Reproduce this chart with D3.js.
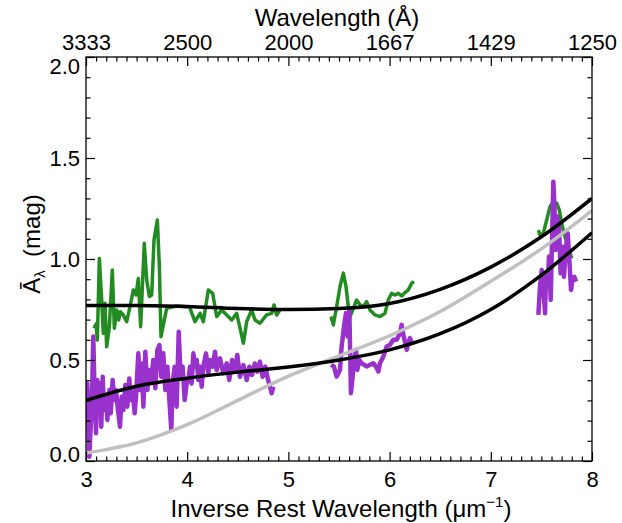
<!DOCTYPE html>
<html><head><meta charset="utf-8">
<script src="https://cdn.jsdelivr.net/npm/d3@7"></script>
<style>body{margin:0;background:#fff}svg{display:block}text{font-family:"Liberation Sans",Arial,sans-serif}</style>
</head><body>
<svg id="c" width="622" height="523"></svg>
<script>
// ---- data ----
const xTicks = [3, 4, 5, 6, 7, 8];
const topTickLabels = ["3333", "2500", "2000", "1667", "1429", "1250"];
const yTicks = [0.0, 0.5, 1.0, 1.5, 2.0];

const modelX = [3, 3.5, 4, 4.5, 5, 5.5, 6, 6.5, 7, 7.5, 8];
const upperModel = [0.77, 0.77, 0.765, 0.755, 0.75, 0.755, 0.78, 0.85, 0.96, 1.11, 1.30];
const lowerModel = [0.30, 0.37, 0.41, 0.44, 0.465, 0.50, 0.55, 0.63, 0.75, 0.92, 1.13];
const grayModel  = [0.04, 0.09, 0.18, 0.30, 0.42, 0.52, 0.62, 0.74, 0.89, 1.05, 1.24];

const green1X = [3.079,3.099,3.112,3.132,3.155,3.171,3.188,3.204,3.231,3.260,3.280,3.303,3.323,3.339,3.369,3.402,3.435,3.468,3.494,3.517,3.540,3.576,3.600,3.626,3.649,3.672,3.705,3.725,3.741,3.797,3.896,3.978,4.021,4.077,4.127,4.159,4.209,4.252,4.291,4.341,4.390,4.440,4.489,4.555,4.588,4.637,4.670,4.719,4.785,4.835,4.858,4.884,4.917];
const green1Y = [0.657,0.678,0.599,1.003,0.797,0.632,0.781,0.566,0.665,0.945,0.657,0.748,0.698,0.739,0.723,0.690,0.764,0.847,0.822,0.904,0.665,1.078,0.896,0.814,0.822,1.094,1.193,0.962,0.615,0.756,0.767,0.764,0.764,0.690,0.731,0.690,0.847,0.830,0.715,0.748,0.723,0.698,0.731,0.583,0.690,0.748,0.698,0.682,0.723,0.731,0.772,0.723,0.748];
const green2X = [5.421,5.444,5.477,5.510,5.543,5.569,5.592,5.609,5.642,5.674,5.707,5.740,5.773,5.806,5.856,5.905,5.954,5.987,6.020,6.053,6.086,6.119,6.152,6.185,6.218,6.241];
const green2Y = [0.715,0.674,0.765,0.864,0.930,0.864,0.765,0.715,0.756,0.797,0.773,0.765,0.789,0.748,0.723,0.715,0.731,0.797,0.830,0.822,0.830,0.817,0.834,0.847,0.880,0.888];
const green3X = [7.470,7.486,7.519,7.552,7.585,7.618,7.651,7.677,7.700,7.733,7.766,7.799];
const green3Y = [1.143,1.119,1.127,1.193,1.259,1.284,1.276,1.243,1.177,1.111,1.061,1.003];

const purple1X = [3.000,3.013,3.033,3.046,3.059,3.072,3.086,3.099,3.112,3.125,3.138,3.151,3.165,3.178,3.198,3.211,3.231,3.244,3.263,3.277,3.296,3.316,3.336,3.352,3.369,3.389,3.408,3.428,3.441,3.461,3.481,3.494,3.517,3.534,3.550,3.567,3.586,3.606,3.626,3.646,3.665,3.685,3.705,3.725,3.744,3.764,3.784,3.804,3.824,3.843,3.856,3.876,3.896,3.916,3.935,3.955,3.975,3.995,4.011,4.028,4.044,4.061,4.077,4.094,4.110,4.127,4.143,4.159,4.186,4.209,4.225,4.252,4.275,4.291,4.324,4.357,4.390,4.416,4.443,4.472,4.495,4.522,4.555,4.588,4.614,4.640,4.667,4.693,4.719,4.746,4.772,4.799,4.818,4.835,4.851];
const purple1Y = [0.219,0.384,0.021,0.170,0.302,0.616,0.302,0.137,0.401,0.252,0.384,0.170,0.417,0.252,0.318,0.203,0.351,0.236,0.401,0.302,0.351,0.252,0.170,0.318,0.252,0.376,0.269,0.409,0.302,0.351,0.236,0.318,0.533,0.351,0.483,0.269,0.541,0.351,0.450,0.401,0.500,0.360,0.549,0.574,0.417,0.533,0.351,0.467,0.302,0.153,0.384,0.467,0.269,0.640,0.417,0.467,0.302,0.384,0.401,0.467,0.384,0.533,0.467,0.500,0.401,0.467,0.368,0.467,0.533,0.434,0.500,0.467,0.541,0.450,0.508,0.434,0.483,0.401,0.500,0.450,0.525,0.417,0.475,0.401,0.467,0.426,0.483,0.442,0.492,0.417,0.467,0.401,0.368,0.335,0.368];
const purple2X = [5.421,5.450,5.477,5.510,5.526,5.549,5.569,5.585,5.602,5.618,5.635,5.648,5.668,5.681,5.701,5.724,5.750,5.773,5.806,5.839,5.865,5.889,5.905,5.938,5.971,6.004,6.037,6.070,6.103,6.119,6.136,6.152,6.169,6.185,6.201,6.228];
const purple2Y = [0.476,0.468,0.418,0.451,0.567,0.665,0.732,0.616,0.748,0.336,0.418,0.500,0.550,0.451,0.500,0.484,0.476,0.468,0.476,0.484,0.468,0.443,0.484,0.517,0.567,0.575,0.600,0.600,0.633,0.674,0.624,0.591,0.550,0.583,0.608,0.575];
const purple3X = [7.470,7.486,7.503,7.519,7.536,7.546,7.562,7.575,7.592,7.608,7.618,7.628,7.641,7.658,7.674,7.690,7.707,7.723,7.740,7.760,7.776,7.793,7.809,7.825,7.842];
const purple3Y = [0.723,0.863,0.945,0.863,0.731,0.929,0.863,1.012,0.797,1.160,1.383,1.276,1.045,1.210,1.160,0.929,1.061,0.912,1.045,1.127,0.995,0.847,0.904,0.912,0.888];

// ---- layout ----
const svg = d3.select("#c");
const L = 86, R = 592, T = 57, B = 461;
const x = d3.scaleLinear().domain([3, 8]).range([L, R]);
const y = d3.scaleLinear().domain([0, 2]).range([B, T]);

const zip = (xs, ys) => xs.map((v, i) => [v, ys[i]]);
const raw = d3.line().x(d => x(d[0])).y(d => y(d[1]));
const smooth = d3.line().x(d => x(d[0])).y(d => y(d[1])).curve(d3.curveMonotoneX);

const plot = svg.append("g");
plot.append("defs").append("clipPath").attr("id", "clip")
  .append("rect").attr("x", L).attr("y", T).attr("width", R - L).attr("height", B - T);
const g = plot.append("g").attr("clip-path", "url(#clip)");

const GREEN = "#228b22", PURPLE = "#9932cc", GRAY = "#c0c0c0";
[[green1X, green1Y], [green2X, green2Y], [green3X, green3Y]].forEach(([a, b]) =>
  g.append("path").attr("d", raw(zip(a, b))).attr("fill", "none").attr("stroke", GREEN)
   .attr("stroke-width", 3.5).attr("stroke-linejoin", "round"));
[[purple1X, purple1Y], [purple2X, purple2Y], [purple3X, purple3Y]].forEach(([a, b]) =>
  g.append("path").attr("d", raw(zip(a, b))).attr("fill", "none").attr("stroke", PURPLE)
   .attr("stroke-width", 4.5).attr("stroke-linejoin", "round"));
g.append("path").attr("d", smooth(zip(modelX, grayModel))).attr("fill", "none")
  .attr("stroke", GRAY).attr("stroke-width", 3.5);
[upperModel, lowerModel].forEach(m =>
  g.append("path").attr("d", smooth(zip(modelX, m))).attr("fill", "none")
   .attr("stroke", "#000").attr("stroke-width", 3.5));

// ---- axes ----
const minorX = d3.range(30, 81).map(v => v / 10).filter(v => Math.abs(v - Math.round(v)) > 1e-6);
const minorY = d3.range(0, 21).map(v => v / 10).filter(v => Math.abs(v * 2 - Math.round(v * 2)) > 1e-6);
const FS = 22, TFS = 24;

function styleAxis(sel) {
  sel.select(".domain").remove();
  sel.selectAll("line").attr("stroke", "#000").attr("stroke-width", 1.2);
  sel.selectAll("text").attr("font-size", FS).attr("fill", "#000")
     .attr("font-family", "Liberation Sans, Arial, sans-serif");
}
const ax = svg.append("g");
// bottom
ax.append("g").attr("transform", `translate(0,${B})`)
  .call(d3.axisBottom(x).tickValues(xTicks).tickSize(-9).tickPadding(10).tickFormat(d3.format("d"))).call(styleAxis);
ax.append("g").attr("transform", `translate(0,${B})`)
  .call(d3.axisBottom(x).tickValues(minorX).tickSize(-4.5).tickFormat("")).call(styleAxis);
// top
ax.append("g").attr("transform", `translate(0,${T})`)
  .call(d3.axisTop(x).tickValues(xTicks).tickSize(-9).tickPadding(7).tickFormat((d, i) => topTickLabels[i])).call(styleAxis);
ax.append("g").attr("transform", `translate(0,${T})`)
  .call(d3.axisTop(x).tickValues(minorX).tickSize(-4.5).tickFormat("")).call(styleAxis);
// left
const leftAx = ax.append("g").attr("transform", `translate(${L},0)`)
  .call(d3.axisLeft(y).tickValues(yTicks).tickSize(-9).tickPadding(6).tickFormat(d3.format(".1f"))).call(styleAxis);
leftAx.selectAll("text").attr("dy", d => d === 2 ? "0.75em" : d === 0 ? "0.0em" : "0.35em");
ax.append("g").attr("transform", `translate(${L},0)`)
  .call(d3.axisLeft(y).tickValues(minorY).tickSize(-4.5).tickFormat("")).call(styleAxis);
// right
ax.append("g").attr("transform", `translate(${R},0)`)
  .call(d3.axisRight(y).tickValues(yTicks).tickSize(-9).tickFormat("")).call(styleAxis);
ax.append("g").attr("transform", `translate(${R},0)`)
  .call(d3.axisRight(y).tickValues(minorY).tickSize(-4.5).tickFormat("")).call(styleAxis);
// frame
svg.append("rect").attr("x", L).attr("y", T).attr("width", R - L).attr("height", B - T)
  .attr("fill", "none").attr("stroke", "#000").attr("stroke-width", 1.3);

// ---- titles ----
const xt = svg.append("text").attr("x", (L + R) / 2 + 2).attr("y", 517).attr("text-anchor", "middle")
  .attr("font-size", TFS);
xt.append("tspan").text("Inverse Rest Wavelength (\u03bcm");
xt.append("tspan").attr("dy", -10).attr("font-size", 15).text("\u22121");
xt.append("tspan").attr("dy", 10).text(")");

svg.append("text").attr("x", (L + R) / 2 - 2).attr("y", 26).attr("text-anchor", "middle")
  .attr("font-size", TFS).text("Wavelength (\u00c5)");

const yt = svg.append("text").attr("transform", "translate(40,244) rotate(-90)")
  .attr("text-anchor", "middle").attr("font-size", TFS);
yt.append("tspan").text("A\u0304");
yt.append("tspan").attr("font-size", 15).attr("dy", 5).text("\u03bb");
yt.append("tspan").attr("dy", -5).text("\u00a0\u00a0(mag)");
</script>
</body></html>
